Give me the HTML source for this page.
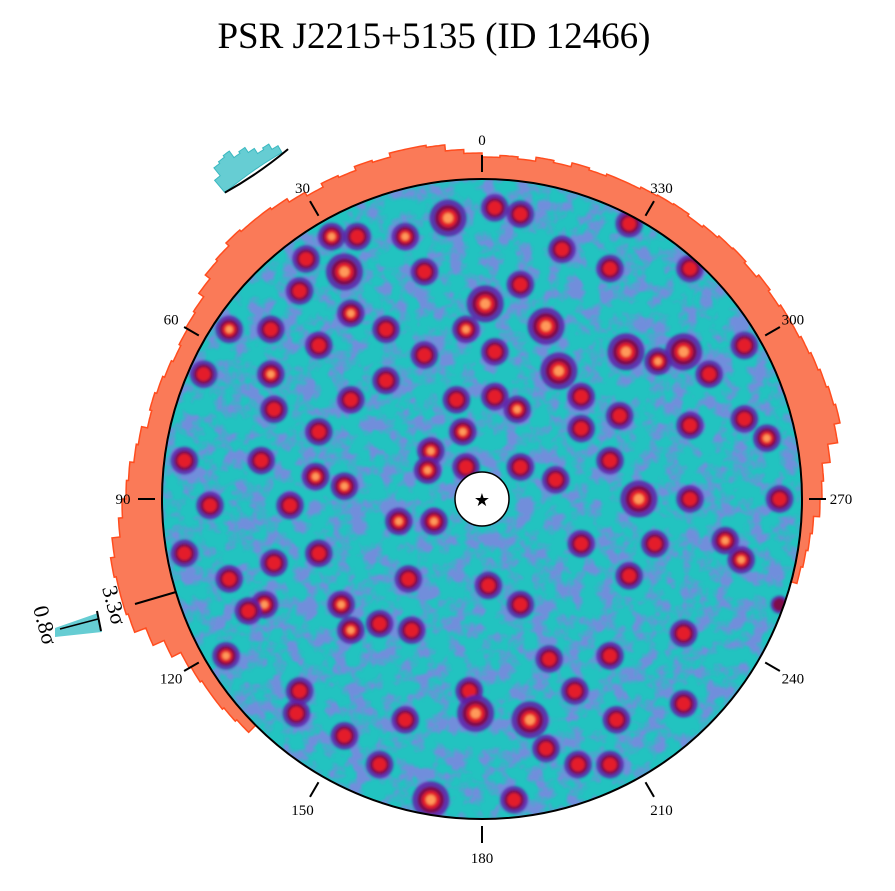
<!DOCTYPE html>
<html><head><meta charset="utf-8"><style>
body{margin:0;background:#fff;width:895px;height:891px;overflow:hidden}
svg{display:block}
text{font-family:"Liberation Serif",serif}
</style></head><body>
<svg id="chart" width="895" height="891">
<defs>
<clipPath id="disc"><circle cx="482" cy="499" r="320"/></clipPath>
<filter id="bl" x="-20%" y="-20%" width="140%" height="140%"><feGaussianBlur stdDeviation="1.4"/></filter>
<filter id="noise" x="0" y="0" width="100%" height="100%">
<feTurbulence type="fractalNoise" baseFrequency="0.06" numOctaves="3" seed="11"/>
<feColorMatrix type="matrix" values="0 0 0 0 0.38  0 0 0 0 0.15  0 0 0 0 0.85  0 0 0 -4 2.25"/>
<feGaussianBlur stdDeviation="0.8"/>
</filter>
</defs>
<text x="434" y="48" font-size="37" text-anchor="middle">PSR J2215+5135 (ID 12466)</text>
<g id="hist"></g>
<g clip-path="url(#disc)">
<circle cx="482" cy="499" r="320" fill="#22c3c0"/>
<rect x="162" y="179" width="640" height="640" filter="url(#noise)" opacity="0.6"/>
<g id="blobs" filter="url(#bl)"></g>
</g>
<circle cx="482" cy="499" r="320" fill="none" stroke="#000" stroke-width="2"/>
<g id="ticks"></g>
<circle cx="482" cy="499" r="27" fill="#fff" stroke="#000" stroke-width="1.5"/>
<text x="482" y="506" font-size="18" text-anchor="middle">★</text>
<g id="minihist"></g>
<g>
<line x1="135" y1="604" x2="176" y2="592" stroke="#000" stroke-width="2"/>
<polygon points="55,628 55,637 102,632 98,613" fill="#66cdd3"/>
<line x1="60" y1="629" x2="98" y2="619" stroke="#000" stroke-width="1.5"/>
<line x1="97" y1="611" x2="101" y2="631" stroke="#000" stroke-width="2"/>
<text transform="translate(102,588) rotate(75)" font-size="22">3.3σ</text>
<text transform="translate(33,608) rotate(75)" font-size="22">0.8σ</text>
</g>
</svg>
<script>
const histStart = 255;
const histStep = 3;
const histValues = [6,8,10,12,18, 20,22,30,40,46, 44,42,40,38,36, 36,34,36,33,35, 34,32,30,32,31, 30,28,28,26,28, 24,26,22,24,22, 26,30,36,38,38, 34,36,32,34,30, 34,38,40,40,42, 38,36,30,24,22, 20,18,20,22,24, 22,28,30,34,36, 40,44,52,56,54, 54,52,40,28,18, 16,14,14,12,10];
const miniStart = 30;
const miniValues = [8,14,12,18,24,22,30,28,26,16];
const tickAngles = [0,30,60,90,120,150,180,210,240,270,300,330];
const blobX = [-10.6,4,12,-24,-39,-47,-18,-43,-55,12,25,46,65,40,1,20,-5,-41,-57,-79,-66,-51,-30,-18,4,24,45,63,55,82,71,-66,-87,-30,-41,-65,4,11,-8,31,43,31,-6,-16,-17,82,89,65,-51,-69,-93,-52,-43,-5,12,23,40,49,65,93,-85,-60,-26,-15,-51,-65,-93,-79,31,54,76,81,46,-23,2,-44,-68,-32,-41,12,63,21,-80,40,-22,-4,29,63,-57,-2,15,-24,-43,42,20,30,-32,-16,10,40,-58,-73,93];
const blobY = [-87.8,-91,-89,-82,-82,-82,-71,-71,-75,-67,-78,-86,-72,-72,-61,-54,-53,-58,-65,-53,-53,-48,-53,-45,-46,-40,-46,-46,-43,-48,-39,-39,-39,-37,-31,-28,-32,-28,-31,-32,-26,-22,-21,-15,-9,-25,-19,-23,-21,-12,-12,-7,-4,-10,-10,-6,-12,0,0,0,2,2,7,7,17,20,17,25,14,14,13,19,24,25,27,33,33,39,41,33,42,50,49,49,41,60,60,64,60,67,69,69,74,69,78,83,83,94,94,83,67,35,33];
const blobSize = [3,2,2,2,2,2,2,3,2,2,2,2,2,2,3,3,2,2,2,2,2,2,2,2,2,3,3,3,2,2,2,2,2,2,2,2,2,2,2,2,2,2,2,2,2,2,2,2,2,2,2,2,2,2,2,2,2,3,2,2,2,2,2,2,2,2,2,2,2,2,2,2,2,2,2,2,2,2,2,2,2,2,2,2,2,2,2,2,2,3,3,2,2,2,2,2,2,3,2,2,2,2,1];
const blobLevel = [3,2,2,3,2,3,2,3,2,2,2,2,2,2,3,3,3,3,2,3,2,2,2,2,2,3,3,3,3,2,2,3,2,2,2,2,2,3,2,2,2,2,3,3,3,2,3,2,2,2,2,3,3,2,2,2,2,3,2,2,2,2,3,3,2,2,2,2,2,2,3,3,2,2,2,3,3,2,3,2,2,2,3,2,2,2,2,2,2,3,3,2,2,2,2,2,2,3,2,2,2,2,1];

const NS='http://www.w3.org/2000/svg', cx=482, cy=499, R=320;
function pt(a, r){const t=a*Math.PI/180;return [cx - r*Math.sin(t), cy - r*Math.cos(t)];}
function sx(v){return cx + v*3.2;}
function sy(v){return cy + v*3.2;}

let d='';
const a0=histStart;
let p=pt(a0,R); d+='M'+p[0]+','+p[1];
histValues.forEach((v,i)=>{
  const s=a0+i*histStep, e=s+histStep;
  for(let a=s;a<=e;a+=0.5){const q=pt(a,R+v);d+=' L'+q[0].toFixed(1)+','+q[1].toFixed(1);}
});
const aEnd=a0+histValues.length*histStep;
for(let a=aEnd;a>=a0;a-=1){const q=pt(a,R);d+=' L'+q[0].toFixed(1)+','+q[1].toFixed(1);}
d+='Z';
const hp=document.createElementNS(NS,'path');
hp.setAttribute('d',d);hp.setAttribute('fill','#fa7a58');hp.setAttribute('stroke','#ff4d1f');hp.setAttribute('stroke-width','1.5');


document.getElementById('hist').appendChild(hp);

const MR=400;
let md='';let m0=pt(miniStart,MR);md='M'+m0[0]+','+m0[1];
miniValues.forEach((v,i)=>{const s=miniStart+i,e=s+1;for(let a=s;a<=e;a+=0.25){const q=pt(a,MR+v);md+=' L'+q[0].toFixed(1)+','+q[1].toFixed(1);}});
const mEnd=miniStart+miniValues.length;
for(let a=mEnd;a>=miniStart;a-=0.5){const q=pt(a,MR);md+=' L'+q[0].toFixed(1)+','+q[1].toFixed(1);}
md+='Z';
const mp=document.createElementNS(NS,'path');
mp.setAttribute('d',md);mp.setAttribute('fill','#66cdd3');mp.setAttribute('stroke','#3bb8c0');


document.getElementById('minihist').appendChild(mp);
const ma=pt(miniStart-1,MR), mb=pt(mEnd,MR);
const arc=document.createElementNS(NS,'path');
arc.setAttribute('d','M'+ma[0]+','+ma[1]+' A'+MR+','+MR+' 0 0 1 '+mb[0]+','+mb[1]);
arc.setAttribute('fill','none');arc.setAttribute('stroke','#000');arc.setAttribute('stroke-width','2');


document.getElementById('minihist').appendChild(arc);

const bg=document.getElementById('blobs');
const layers=[[1.4,'#5f1fa8',0.85],[1.0,'#7e1048',1],[0.68,'#e41e2c',1],[0.38,'#ff9a5a',1]];
blobX.forEach((x,i)=>{
  const r=blobSize[i]*3.4+3;
  layers.forEach((L,k)=>{
    if(k===3 && blobLevel[i]<3) return;
    if(k===2 && blobLevel[i]<2) return;
    const c=document.createElementNS(NS,'circle');
    c.setAttribute('cx',sx(x));c.setAttribute('cy',sy(blobY[i]));
    c.setAttribute('r',r*L[0]);c.setAttribute('fill',L[1]);c.setAttribute('opacity',L[2]);
    
    
    bg.appendChild(c);
  });
});

const tg=document.getElementById('ticks');
tickAngles.forEach(a=>{
  const p1=pt(a,327),p2=pt(a,344),lp=pt(a,359);
  const l=document.createElementNS(NS,'line');
  l.setAttribute('x1',p1[0]);l.setAttribute('y1',p1[1]);l.setAttribute('x2',p2[0]);l.setAttribute('y2',p2[1]);
  l.setAttribute('stroke','#000');l.setAttribute('stroke-width','2');
  
  
  tg.appendChild(l);
  const t=document.createElementNS(NS,'text');
  t.setAttribute('x',lp[0]);t.setAttribute('y',lp[1]+5);t.setAttribute('font-size','15');t.setAttribute('text-anchor','middle');
  t.textContent=a;
  
  
  tg.appendChild(t);
});
</script>
</body></html>
